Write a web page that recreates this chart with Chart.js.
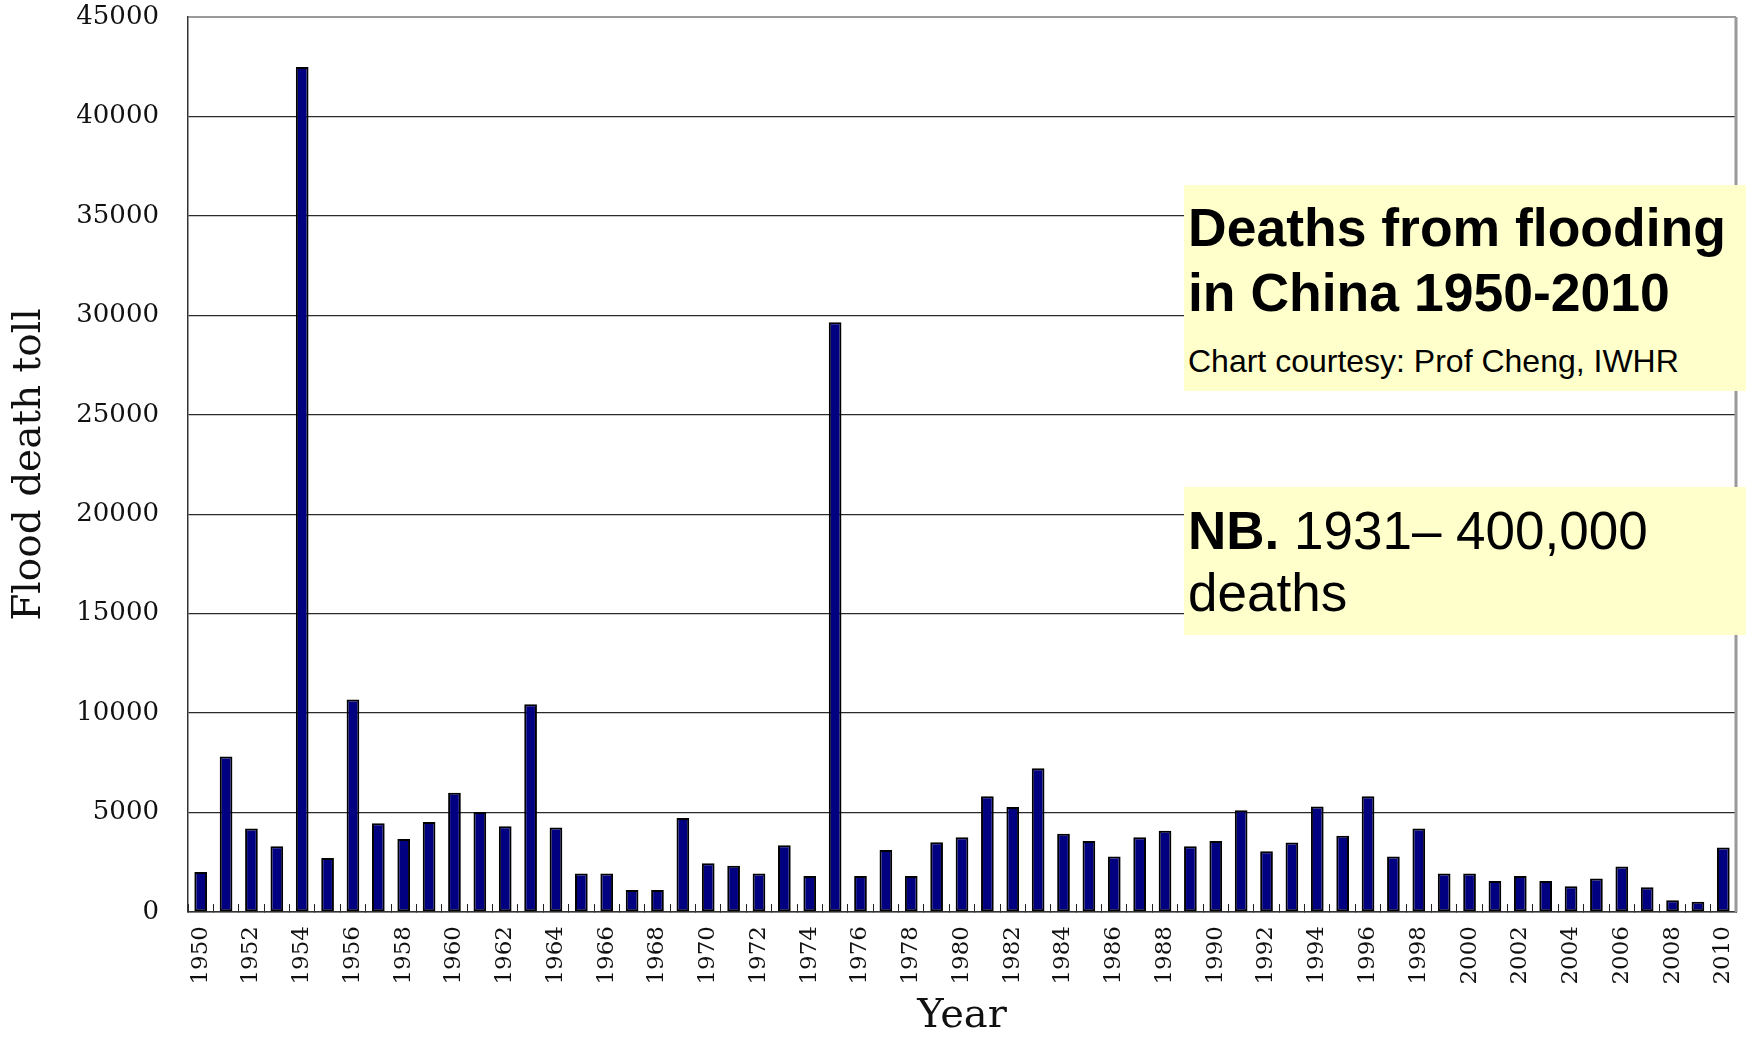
<!DOCTYPE html>
<html>
<head>
<meta charset="utf-8">
<script src="https://cdn.jsdelivr.net/npm/chart.js@4/dist/chart.umd.min.js"></script>
<style>
  html, body { margin: 0; padding: 0; background: #fff; }
  #wrap { position: relative; width: 1746px; height: 1038px; overflow: hidden; }
  #c { position: absolute; left: 0; top: 0; }
  .box { position: absolute; background: #FFFFCC; left: 1184px; width: 562px; }
  .txt { position: absolute; left: 1188px; font-family: "Liberation Sans", Arial, sans-serif; color: #000; white-space: nowrap; }
</style>
</head>
<body>
<div id="wrap">
  <canvas id="c" width="1746" height="1038"></canvas>
  <div class="box" style="top:185px;height:206px;"></div>
  <div class="box" style="top:487px;height:148px;"></div>
  <div class="txt" style="top:195px;font-size:53.5px;line-height:65px;font-weight:bold;">Deaths from flooding<br>in China 1950-2010</div>
  <div class="txt" style="top:345px;font-size:32px;line-height:32px;">Chart courtesy: Prof Cheng, IWHR</div>
  <div class="txt" style="top:500px;font-size:53px;line-height:62px;"><b>NB.</b> 1931– 400,000<br>deaths</div>
</div>
<script>
const years = [];
for (let y = 1950; y <= 2010; y++) years.push(String(y));

const deaths = [
  2010, 7819, 4200, 3310, 42480, 2720, 10690, 4460, 3670, 4530,
  5990, 5030, 4310, 10440, 4250, 1930, 1930, 1110, 1110, 4720,
  2450, 2330, 1930, 3360, 1810, 29650, 1810, 3120, 1810, 3510,
  3760, 5820, 5280, 7230, 3930, 3570, 2790, 3760, 4080, 3310,
  3570, 5120, 3050, 3490, 5300, 3830, 5820, 2790, 4200, 1930,
  1930, 1560, 1810, 1560, 1290, 1680, 2290, 1240, 590, 520,
  3240
];

const yMin = 0, yMax = 45000, yStep = 5000;

const frame = {
  id: 'frame',
  afterDraw(chart) {
    const a = chart.chartArea, ctx = chart.ctx;
    ctx.save();
    ctx.strokeStyle = '#9a9a9a';
    ctx.lineWidth = 3;
    ctx.beginPath();
    ctx.moveTo(a.right, a.top);
    ctx.lineTo(a.right, a.bottom);
    ctx.stroke();
    ctx.restore();
  }
};

new Chart(document.getElementById('c'), {
  type: 'bar',
  data: {
    labels: years,
    datasets: [{
      data: deaths,
      backgroundColor: '#000080',
      borderColor: '#000000',
      borderWidth: 2,
      borderSkipped: false,
      barPercentage: 0.5,
      categoryPercentage: 1.0
    }]
  },
  options: {
    responsive: false,
    animation: false,
    devicePixelRatio: 1,
    layout: { padding: { top: 17, right: 10, left: 0, bottom: 0 } },
    plugins: { legend: { display: false }, tooltip: { enabled: false } },
    scales: {
      x: {
        offset: true,
        grid: {
          offset: true,
          drawOnChartArea: false,
          drawTicks: true,
          tickLength: -8,
          color: '#222',
          lineWidth: 1
        },
        border: { display: true, color: '#333', width: 1.5 },
        ticks: {
          autoSkip: false,
          maxRotation: 90,
          minRotation: 90,
          padding: 22,
          color: '#111',
          font: { family: 'DejaVu Serif', size: 23 },
          callback: function (v, i) { return i % 2 === 0 ? this.getLabelForValue(v) : ''; }
        },
        title: {
          display: true,
          text: 'Year',
          color: '#111',
          font: { family: 'DejaVu Serif', size: 40 },
          padding: { top: 0, bottom: -3 }
        },
        afterFit(s) { s.height = 126; s.paddingLeft = 0; s.paddingRight = 0; }
      },
      y: {
        min: yMin,
        max: yMax,
        ticks: {
          stepSize: yStep,
          padding: 29,
          color: '#111',
          font: { family: 'DejaVu Serif', size: 26 },
          callback: (v) => String(v)
        },
        grid: {
          drawTicks: false,
          color: (c) => (c.tick && c.tick.value === yMax ? '#9a9a9a' : '#2a2a2a'),
          lineWidth: (c) => (c.tick && c.tick.value === yMax ? 2 : 1.3)
        },
        border: { display: true, color: '#333', width: 1.5 },
        title: {
          display: true,
          text: 'Flood death toll',
          color: '#111',
          font: { family: 'DejaVu Serif', size: 39 },
          padding: { top: 6, bottom: 0 }
        },
        afterFit(s) { s.width = 188; s.paddingTop = 0; s.paddingBottom = 0; }
      }
    }
  },
  plugins: [frame]
});
</script>
</body>
</html>
